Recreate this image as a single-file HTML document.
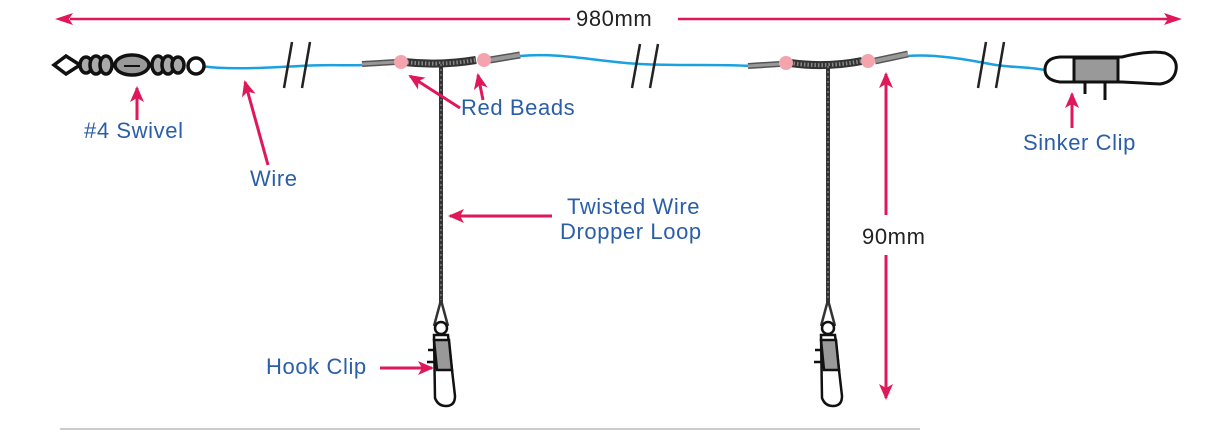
<!DOCTYPE html>
<html><head><meta charset="utf-8"><style>
html,body{margin:0;padding:0;background:#fff;width:1223px;height:430px;overflow:hidden}
svg{display:block}
text{font-family:"Liberation Sans",sans-serif;font-size:22px;letter-spacing:0.6px;fill:#2a5ea8}
</style></head><body>
<svg width="1223" height="430" viewBox="0 0 1223 430" xmlns="http://www.w3.org/2000/svg">
<defs>
<marker id="ah2" markerWidth="16" markerHeight="14" refX="14" refY="7" orient="auto" markerUnits="userSpaceOnUse">
<path d="M0,0 L16,7 L0,14 L4,7 Z" fill="#e0185a"/></marker>
</defs>
<!-- top dimension -->
<line x1="70" y1="19" x2="570" y2="19" stroke="#e0185a" stroke-width="2.5"/>
<line x1="678" y1="19" x2="1170" y2="19" stroke="#e0185a" stroke-width="2.5"/>
<path d="M55,19 L73,13 L69,19 L73,25 Z" fill="#e0185a"/>
<path d="M1182,19 L1164,13 L1168,19 L1164,25 Z" fill="#e0185a"/>
<text x="576" y="26" style="fill:#222">980mm</text>

<!-- blue wire -->
<path d="M200,66 C230,70 260,68 300,66 C330,64 350,66 362,65" fill="none" stroke="#1ba1e0" stroke-width="2.5"/>
<path d="M520,56 C560,52 600,62 640,64 C680,66 720,64 750,66" fill="none" stroke="#1ba1e0" stroke-width="2.5"/>
<path d="M908,56 C930,54 960,58 990,64 C1010,68 1030,66 1055,72" fill="none" stroke="#1ba1e0" stroke-width="2.5"/>
<!-- breaks -->
<g stroke="#222" stroke-width="2.5">
<line x1="284" y1="88" x2="292" y2="42"/><line x1="302" y1="88" x2="310" y2="42"/>
<line x1="632" y1="88" x2="640" y2="44"/><line x1="650" y1="88" x2="658" y2="44"/>
<line x1="978" y1="88" x2="986" y2="42"/><line x1="996" y1="88" x2="1004" y2="42"/>
</g>

<!-- swivel -->
<g stroke="#111" stroke-width="3.5" fill="#fff">
<path d="M54,65 L66,56 L80,65 L66,74 Z"/>
<ellipse cx="86" cy="65" rx="6" ry="8" fill="#aaa"/>
<ellipse cx="96" cy="65" rx="6" ry="9" fill="#aaa"/>
<ellipse cx="106" cy="65" rx="6" ry="9" fill="#aaa"/>
<ellipse cx="132" cy="65" rx="17" ry="10" fill="#999"/>
<ellipse cx="158" cy="65" rx="6" ry="9" fill="#aaa"/>
<ellipse cx="168" cy="65" rx="6" ry="9" fill="#aaa"/>
<ellipse cx="178" cy="65" rx="6" ry="8" fill="#aaa"/>
<circle cx="196" cy="66" r="8"/>
</g>
<line x1="124" y1="66" x2="140" y2="66" stroke="#111" stroke-width="2"/>

<!-- left T -->
<g>
<path d="M362,64 L396,62" stroke="#555" stroke-width="6"/>
<path d="M362,64 L396,62" stroke="#999" stroke-width="3"/>
<path d="M404,62 Q440,66 476,60" stroke="#333" stroke-width="8" fill="none"/>
<path d="M404,62 Q440,66 476,60" stroke="#888" stroke-width="4" fill="none" stroke-dasharray="1.5 2"/>
<path d="M490,60 L520,55" stroke="#555" stroke-width="7"/>
<path d="M490,60 L520,55" stroke="#999" stroke-width="4"/>
<circle cx="401" cy="62" r="7" fill="#f4a4ac"/>
<circle cx="484" cy="60" r="7" fill="#f4a4ac"/>
<line x1="441" y1="64" x2="441" y2="305" stroke="#333" stroke-width="4"/>
<line x1="441" y1="64" x2="441" y2="305" stroke="#777" stroke-width="1.5" stroke-dasharray="2 3"/>
<path d="M441,300 L434,326 M441,300 L448,326" stroke="#333" stroke-width="2.5"/>
<g stroke="#111" stroke-width="2.5" fill="#fff">
<circle cx="441" cy="328" r="6"/>
<path d="M434,335 L448,335 L455,396 Q455,406 446,406 Q438,406 435,398 Z"/>
<path d="M434,340 L449,340 L452,370 L437,370 Z" fill="#999"/>
<path d="M434,350 L428,350 M435,362 L427,362" />
</g>
</g>

<!-- right T -->
<g>
<path d="M748,66 L780,64" stroke="#555" stroke-width="6"/>
<path d="M748,66 L780,64" stroke="#999" stroke-width="3"/>
<path d="M790,63 Q826,68 862,61" stroke="#333" stroke-width="8" fill="none"/>
<path d="M790,63 Q826,68 862,61" stroke="#888" stroke-width="4" fill="none" stroke-dasharray="1.5 2"/>
<path d="M875,61 L908,54" stroke="#555" stroke-width="7"/>
<path d="M875,61 L908,54" stroke="#999" stroke-width="4"/>
<circle cx="786" cy="63" r="7" fill="#f4a4ac"/>
<circle cx="868" cy="61" r="7" fill="#f4a4ac"/>
<line x1="828" y1="66" x2="828" y2="305" stroke="#333" stroke-width="4"/>
<line x1="828" y1="66" x2="828" y2="305" stroke="#777" stroke-width="1.5" stroke-dasharray="2 3"/>
<path d="M828,300 L821,326 M828,300 L835,326" stroke="#333" stroke-width="2.5"/>
<g stroke="#111" stroke-width="2.5" fill="#fff">
<circle cx="828" cy="328" r="6"/>
<path d="M821,335 L835,335 L842,396 Q842,406 833,406 Q825,406 822,398 Z"/>
<path d="M821,340 L836,340 L839,370 L824,370 Z" fill="#999"/>
<path d="M821,350 L815,350 M822,362 L814,362"/>
</g>
</g>

<!-- sinker clip -->
<g stroke="#111" stroke-width="3" fill="#fff">
<path d="M1060,57 L1122,57 Q1150,50 1165,53 Q1178,58 1176,70 Q1174,82 1160,84 L1122,82 L1060,82 Q1045,80 1045,70 Q1045,58 1060,57 Z"/>
<rect x="1074" y="58" width="44" height="24" fill="#999"/>
<path d="M1085,82 L1085,94 M1085,82 L1105,82 L1105,100"/>
</g>

<!-- label arrows -->
<g stroke="#e0185a" stroke-width="3" fill="none">
<line x1="137" y1="120" x2="137" y2="88" marker-end="url(#ah2)"/>
<line x1="268" y1="165" x2="245" y2="82" marker-end="url(#ah2)"/>
<line x1="460" y1="108" x2="410" y2="76" marker-end="url(#ah2)"/>
<line x1="483" y1="100" x2="478" y2="75" marker-end="url(#ah2)"/>
<line x1="552" y1="216" x2="450" y2="216" marker-end="url(#ah2)"/>
<line x1="1072" y1="128" x2="1072" y2="94" marker-end="url(#ah2)"/>
<line x1="380" y1="368" x2="432" y2="368" marker-end="url(#ah2)"/>
<line x1="886" y1="215" x2="886" y2="74" marker-end="url(#ah2)"/>
<line x1="886" y1="255" x2="886" y2="398" marker-end="url(#ah2)"/>
</g>

<text x="84" y="138">#4 Swivel</text>
<text x="250" y="186">Wire</text>
<text x="461" y="115">Red Beads</text>
<text x="567" y="214">Twisted Wire</text>
<text x="560" y="239">Dropper Loop</text>
<text x="862" y="244" style="fill:#222">90mm</text>
<text x="1023" y="150">Sinker Clip</text>
<text x="266" y="374">Hook Clip</text>

<line x1="60" y1="429" x2="920" y2="429" stroke="#ccc" stroke-width="2"/>
</svg>
</body></html>
